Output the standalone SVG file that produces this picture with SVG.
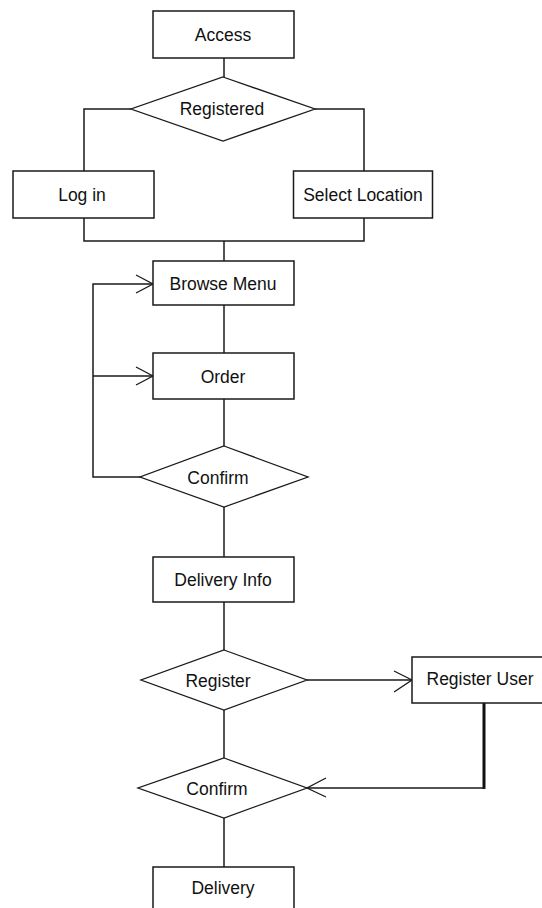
<svg xmlns="http://www.w3.org/2000/svg" width="542" height="908" viewBox="0 0 542 908">
  <style>
    .box { fill: #ffffff; stroke: #1a1a1a; stroke-width: 1.5; }
    .dec { fill: #ffffff; stroke: #1a1a1a; stroke-width: 1.3; }
    .lbl { font-family: "Liberation Sans", Arial, sans-serif; font-size: 17.5px; fill: #111111; text-anchor: middle; dominant-baseline: central; }
    .wire { fill: none; stroke: #1a1a1a; stroke-width: 1.5; }
    .thick { fill: none; stroke: #111111; stroke-width: 3; }
    .head { fill: none; stroke: #1a1a1a; stroke-width: 1.3; }
  </style>
  <rect width="542" height="908" fill="#ffffff"/>

  <g id="connectors">
    <line class="wire" x1="224" y1="58" x2="224" y2="77"/>
    <polyline class="wire" points="131,109 84,109 84,171"/>
    <polyline class="wire" points="315,109 364,109 364,171"/>
    <polyline class="wire" points="84,218 84,241 364,241 364,218"/>
    <line class="wire" x1="224" y1="241" x2="224" y2="261"/>
    <line class="wire" x1="224" y1="305" x2="224" y2="353"/>
    <line class="wire" x1="224" y1="399" x2="224" y2="446"/>
    <polyline class="wire" points="140,477 93,477 93,284 153,284"/>
    <line class="wire" x1="93" y1="376" x2="153" y2="376"/>
    <polyline class="head" points="136,275 153,284 136,293"/>
    <polyline class="head" points="136,367 153,376 136,385"/>
    <line class="wire" x1="224" y1="507" x2="224" y2="557"/>
    <line class="wire" x1="224" y1="602" x2="224" y2="650"/>
    <line class="wire" x1="307" y1="680" x2="412" y2="680"/>
    <polyline class="head" points="394,671 412,680 394,692"/>
    <line class="wire" x1="224" y1="710" x2="224" y2="758"/>
    <line class="thick" x1="484" y1="703" x2="484" y2="789"/>
    <line class="wire" x1="485" y1="788" x2="307" y2="788"/>
    <polyline class="head" points="326,778 307,788 326,797"/>
    <line class="wire" x1="224" y1="818" x2="224" y2="867"/>
  </g>

  <g id="access">
    <rect class="box" x="153" y="11" width="141" height="47"/>
    <text class="lbl" x="223" y="35">Access</text>
  </g>
  <g id="registered">
    <polygon class="dec" points="223,77 315,109 223,141 131,109"/>
    <text class="lbl" x="222" y="109">Registered</text>
  </g>
  <g id="log-in">
    <rect class="box" x="13" y="171" width="141" height="47"/>
    <text class="lbl" x="82" y="195">Log in</text>
  </g>
  <g id="select-location">
    <rect class="box" x="293.5" y="171" width="139" height="47"/>
    <text class="lbl" x="363" y="195">Select Location</text>
  </g>
  <g id="browse-menu">
    <rect class="box" x="153" y="261" width="141" height="44"/>
    <text class="lbl" x="223" y="284">Browse Menu</text>
  </g>
  <g id="order">
    <rect class="box" x="153" y="353" width="141" height="46"/>
    <text class="lbl" x="223" y="377">Order</text>
  </g>
  <g id="confirm-order">
    <polygon class="dec" points="224,446 308,477 224,507 140,477"/>
    <text class="lbl" x="218" y="478">Confirm</text>
  </g>
  <g id="delivery-info">
    <rect class="box" x="153" y="557" width="141" height="45"/>
    <text class="lbl" x="223" y="580">Delivery Info</text>
  </g>
  <g id="register">
    <polygon class="dec" points="224,650 307,680 224,710 141,680"/>
    <text class="lbl" x="218" y="681">Register</text>
  </g>
  <g id="register-user">
    <!-- runs past the right edge of the canvas -->
    <rect class="box" x="412" y="657" width="140" height="46"/>
    <text class="lbl" x="480" y="679">Register User</text>
  </g>
  <g id="confirm-delivery">
    <polygon class="dec" points="224,758 307,788 224,818 138,788"/>
    <text class="lbl" x="217" y="789">Confirm</text>
  </g>
  <g id="delivery">
    <!-- runs past the bottom edge of the canvas -->
    <rect class="box" x="153" y="867" width="141" height="60"/>
    <text class="lbl" x="223" y="888">Delivery</text>
  </g>
</svg>
